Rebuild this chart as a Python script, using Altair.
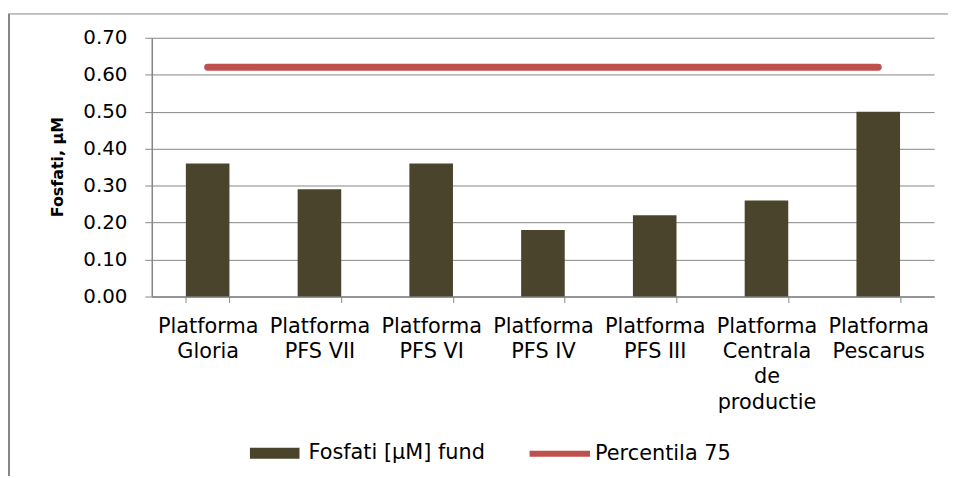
import altair as alt
import pandas as pd

# --- data ---
categories = [
    "Platforma|Gloria",
    "Platforma|PFS VII",
    "Platforma|PFS VI",
    "Platforma|PFS IV",
    "Platforma|PFS III",
    "Platforma|Centrala|de|productie",
    "Platforma|Pescarus",
]
fosfati_fund = [0.36, 0.29, 0.36, 0.18, 0.22, 0.26, 0.50]
percentila_75 = [0.62, 0.62, 0.62, 0.62, 0.62, 0.62, 0.62]
y_ticks = [0.0, 0.1, 0.2, 0.3, 0.4, 0.5, 0.6, 0.7]
bar_series = "Fosfati [µM] fund"
line_series = "Percentila 75"

bar_df = pd.DataFrame({"cat": categories, "val": fosfati_fund, "s1": bar_series})
line_df = pd.DataFrame({"cat": categories, "val": percentila_75, "s2": line_series})

GRAY = "#868686"
BAR = "#4A442D"
RED = "#C0504D"
FONT = "DejaVu Sans"

x_enc = alt.X(
    "cat:N",
    sort=categories,
    scale=alt.Scale(paddingInner=0.61, paddingOuter=0.305),
    axis=alt.Axis(
        title=None,
        labelExpr="split(datum.label, '|')",
        labelAngle=0,
        labelFont=FONT,
        labelFontSize=21,
        labelColor="#000000",
        labelLineHeight=25.5,
        labelBaseline="alphabetic",
        labelPadding=30,
        labelLimit=300,
        labelOverlap=False,
        tickSize=6,
        tickColor=GRAY,
        tickBand="extent",
        domainColor=GRAY,
        domainWidth=1.5,
        grid=False,
    ),
)

y_enc = alt.Y(
    "val:Q",
    scale=alt.Scale(domain=[0, 0.7], nice=False),
    axis=alt.Axis(
        title="Fosfati, µM",
        values=y_ticks,
        format=".2f",
        labelOverlap=False,
        labelFont=FONT,
        labelFontSize=20,
        labelColor="#000000",
        labelPadding=18,
        tickSize=7,
        tickColor=GRAY,
        domainColor=GRAY,
        domainWidth=1.5,
        grid=True,
        gridColor=GRAY,
        gridWidth=1,
        titleFont=FONT,
        titleFontSize=16,
        titleFontWeight="bold",
        titleColor="#000000",
        titleAngle=270,
        titleX=-95,
        titleY=130,
        titleAlign="center",
        titleBaseline="middle",
    ),
)

legend_common = dict(
    title=None,
    orient="none",
    labelFont=FONT,
    labelFontSize=21,
    labelColor="#000000",
    labelLimit=400,
    padding=0,
)

bars = alt.Chart(bar_df).mark_bar().encode(
    x=x_enc,
    y=y_enc,
    fill=alt.Fill(
        "s1:N",
        scale=alt.Scale(range=[BAR]),
        legend=alt.Legend(
            legendX=99,
            legendY=394,
            symbolType="M-1,-0.22H1V0.22H-1Z",
            symbolSize=2500,
            symbolStrokeWidth=0,
            labelOffset=9,
            **legend_common,
        ),
    ),
)

line = alt.Chart(line_df).mark_line(strokeWidth=7, strokeCap="round").encode(
    x=x_enc,
    y=y_enc,
    stroke=alt.Stroke(
        "s2:N",
        scale=alt.Scale(range=[RED]),
        legend=alt.Legend(
            legendX=378,
            legendY=386,
            symbolType="stroke",
            symbolSize=3721,
            symbolStrokeWidth=6,
            labelOffset=2,
            **legend_common,
        ),
    ),
)

frame_left = alt.Chart(alt.Data(values=[{}])).mark_rule(color=GRAY, strokeWidth=3).encode(
    x=alt.value(-144.5), y=alt.value(-24), y2=alt.value(442)
)
frame_top = alt.Chart(alt.Data(values=[{}])).mark_rule(color=GRAY, strokeWidth=1).encode(
    x=alt.value(-146), x2=alt.value(803), y=alt.value(-24)
)

chart = (
    alt.layer(bars, line, frame_left, frame_top)
    .properties(
        width=789,
        height=261,
        autosize=alt.AutoSizeParams(type="none"),
        padding={"left": 145, "top": 28, "right": 14, "bottom": 181},
        background="white",
    )
    .configure_view(stroke=None)
)

chart.save("out.html", embed_options={"renderer": "svg", "actions": False})
